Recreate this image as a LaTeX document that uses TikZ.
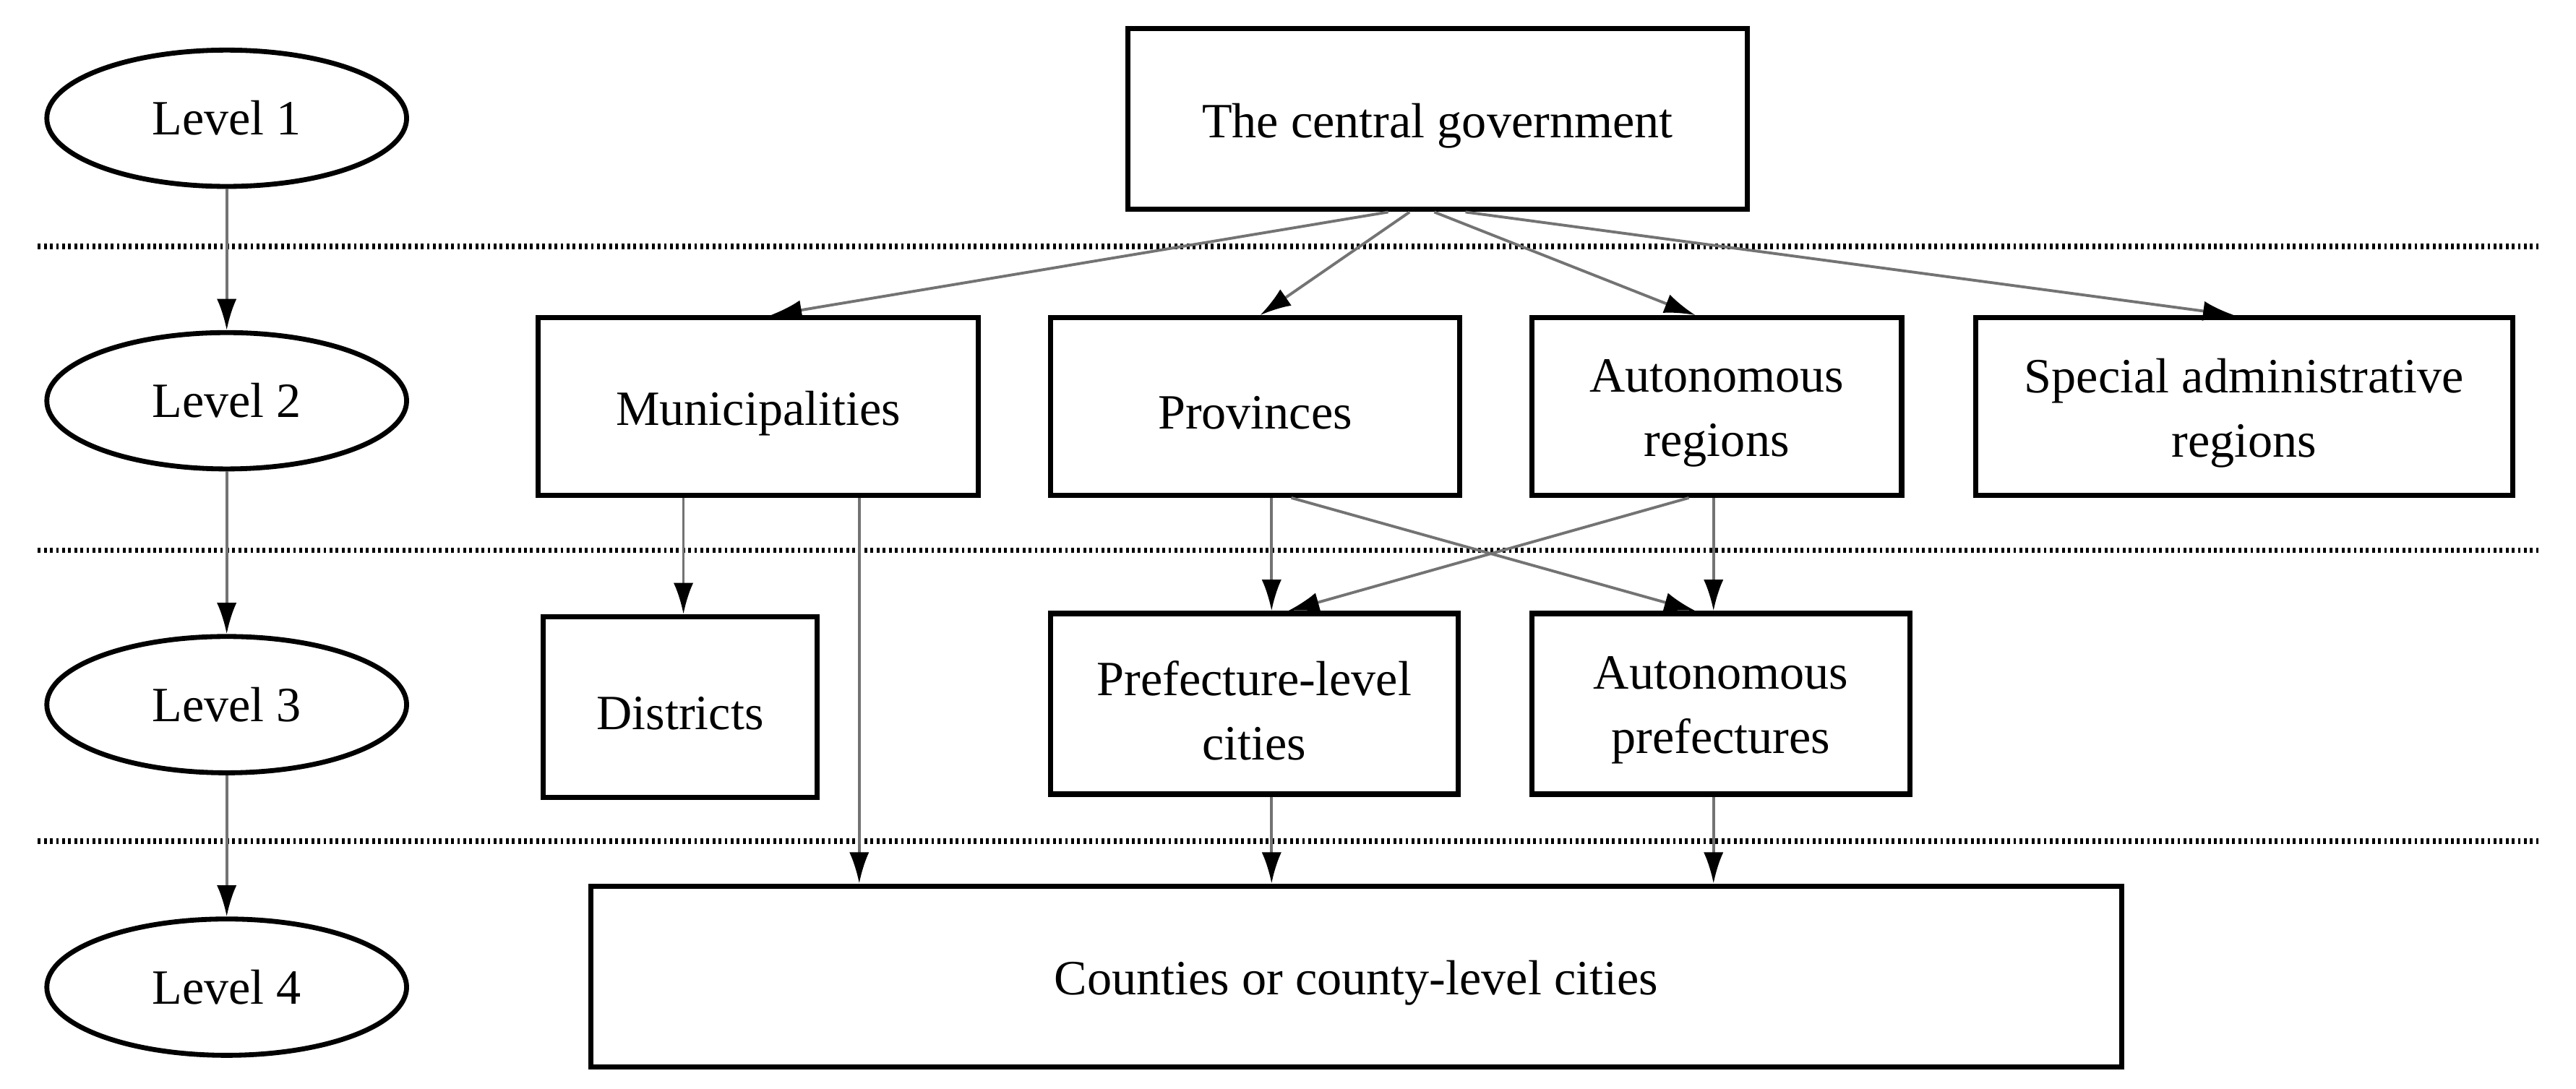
\documentclass[tikz,border=0pt]{standalone}
\usepackage{fontspec}
\setmainfont{Liberation Serif}
\usetikzlibrary{arrows.meta,shapes.geometric}
\newcommand\lowtxt[1]{\raisebox{-4pt}[\height][\depth]{#1}}
\begin{document}
\begin{tikzpicture}[x=1pt,y=-1pt,
  box/.style={draw=black,line width=3.2pt,align=center,inner sep=0pt,
    font=\fontsize{30}{39}\selectfont},
  lvl/.style={draw=black,ellipse,line width=3pt,inner sep=0pt,
    minimum width=219pt,minimum height=83pt,font=\fontsize{30}{39}\selectfont},
  conn/.style={draw=black!55,line width=1.7pt,-{Latex[length=19pt,width=12pt,color=black]}},
  sep/.style={draw=black,line width=3.4pt,dash pattern=on 1.7pt off 2pt}
]
\useasboundingbox (0,0) rectangle (1568,663);
% separators
\draw[sep] (23,150) -- (1545,150);
\draw[sep] (23,335) -- (1545,335);
\draw[sep] (23,512) -- (1545,512);
% level ellipses
\node[lvl] (l1) at (138,72) {Level 1};
\node[lvl] (l2) at (138,244) {Level 2};
\node[lvl] (l3) at (138,429) {Level 3};
\node[lvl] (l4) at (138,601) {Level 4};
% boxes
\node[box,minimum width=377pt,minimum height=110pt] (cg) at (875,72.5) {\lowtxt{The central government}};
\node[box,minimum width=268pt,minimum height=108pt] (mun) at (461.5,247.5) {\lowtxt{Municipalities}};
\node[box,minimum width=249pt,minimum height=108pt] (prov) at (764,247.5) {\lowtxt{Provinces}};
\node[box,minimum width=225pt,minimum height=108pt] (ar) at (1045,247.5) {\lowtxt{Autonomous}\\\lowtxt{regions}};
\node[box,minimum width=327pt,minimum height=108pt] (sar) at (1366,247.5) {\lowtxt{Special administrative}\\\lowtxt{regions}};
\node[box,minimum width=167pt,minimum height=110pt] (dist) at (414,430.5) {\lowtxt{Districts}};
\node[box,minimum width=248pt,minimum height=110pt] (pref) at (763.5,428.5) {\lowtxt{Prefecture-level}\\\lowtxt{cities}};
\node[box,minimum width=230pt,minimum height=110pt] (ap) at (1047.5,428.5) {\lowtxt{Autonomous}\\\lowtxt{prefectures}};
\node[box,minimum width=932pt,minimum height=110pt] (cty) at (825.5,594.5) {\lowtxt{Counties or county-level cities}};
% level arrows
\draw[conn] (l1) -- (l2);
\draw[conn] (l2) -- (l3);
\draw[conn] (l3) -- (l4);
% central government fan
\draw[conn] ([xshift=-30pt]cg.south) -- ([xshift=7.5pt]mun.north);
\draw[conn] ([xshift=-17pt]cg.south) -- ([xshift=3pt]prov.north);
\draw[conn] ([xshift=-2pt]cg.south) -- ([xshift=-13pt]ar.north);
\draw[conn] ([xshift=17pt]cg.south) -- ([xshift=-6pt]sar.north);
% level 2 -> 3 / 4
\draw[conn] ([xshift=-45.5pt]mun.south) -- ([xshift=2pt]dist.north);
\draw[conn] ([xshift=61.5pt]mun.south) -- ([xshift=-302.5pt]cty.north);
\draw[conn] ([xshift=10pt]prov.south) -- ([xshift=10.5pt]pref.north);
\draw[conn] ([xshift=22pt]prov.south) -- ([xshift=-15.5pt]ap.north);
\draw[conn] ([xshift=-17pt]ar.south) -- ([xshift=20.5pt]pref.north);
\draw[conn] ([xshift=-2pt]ar.south) -- ([xshift=-4.5pt]ap.north);
% level 3 -> 4
\draw[conn] ([xshift=10.5pt]pref.south) -- ([xshift=-51.5pt]cty.north);
\draw[conn] ([xshift=-4.5pt]ap.south) -- ([xshift=217.5pt]cty.north);
\end{tikzpicture}
\end{document}
